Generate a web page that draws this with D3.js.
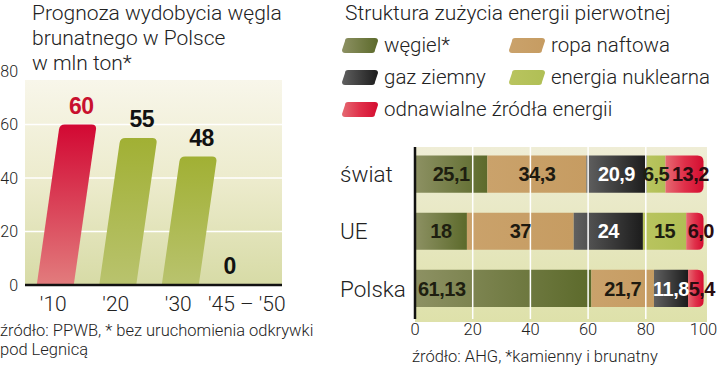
<!DOCTYPE html>
<html><head><meta charset="utf-8">
<script src="https://cdn.jsdelivr.net/npm/d3@7"></script>
<style>
html,body{margin:0;padding:0;background:#fff;}
svg{display:block;}
text{font-family:Roboto,"Liberation Sans",sans-serif;}
.lt{font-weight:300;fill:#222;}
.val{font-family:"Liberation Sans",Arial,sans-serif;font-weight:700;letter-spacing:-0.5px;}
</style></head>
<body>
<svg id="c" width="720" height="392"></svg>
<script>
// ---------- data ----------
const years = ["'10", "'20", "'30", "'45 – '50"];
const output = [60, 55, 48, 0];
const leftTicks = [0, 20, 40, 60, 80];

const regions = ["świat", "UE", "Polska"];
const seriesKeys = ["coal", "oil", "gas", "nuclear", "renew"];
const seriesNames = ["węgiel*", "ropa naftowa", "gaz ziemny", "energia nuklearna", "odnawialne źródła energii"];
const coal = [25.1, 18, 61.13];
const oil = [34.3, 37, 21.7];
const gas = [20.9, 24, 11.8];
const nuclear = [6.5, 15, 0];
const renew = [13.2, 6.0, 5.4];
const rightTicks = [0, 20, 40, 60, 80, 100];

// ---------- setup ----------
const svg = d3.select("#c");
const defs = svg.append("defs");
function lin(id, x2, y2, stops) {
  const g = defs.append("linearGradient").attr("id", id)
    .attr("x1", 0).attr("y1", 0).attr("x2", x2).attr("y2", y2);
  stops.forEach(([o, c]) => g.append("stop").attr("offset", o).attr("stop-color", c));
}
lin("bgL", 0, 1, [[0, "#f8f6ea"], [0.5, "#ecebcc"], [1, "#d7dba6"]]);
lin("bgR", 0, 1, [[0, "#efedd6"], [1, "#dee1aa"]]);
lin("barRed", 0, 1, [[0, "#d20833"], [1, "#e27c7d"]]);
lin("barGreen", 0, 1, [[0, "#a1b034"], [1, "#b9c36e"]]);
lin("g_coal", 1, 0, [[0, "#8d9163"], [1, "#5c6a2b"]]);
lin("g_oil", 1, 0, [[0, "#caa26b"], [1, "#c69c62"]]);
lin("g_gas", 1, 0, [[0, "#606060"], [1, "#1c1c1c"]]);
lin("g_nuclear", 1, 0, [[0, "#b9c45f"], [1, "#b0bf55"]]);
lin("g_renew", 1, 0, [[0, "#e56a72"], [0.5, "#e0304a"], [1, "#d40d30"]]);

// ---------- left chart ----------
const L = svg.append("g");
[["Prognoza wydobycia węgla", 20], ["brunatnego w Polsce", 45], ["w mln ton*", 70]]
  .forEach(([t, y]) => L.append("text").attr("class", "lt").attr("x", 32).attr("y", y)
    .attr("font-size", 21).text(t));

const yL = d3.scaleLinear().domain([0, 80]).range([285, 71]);
const xL = d3.scaleBand().domain(years).range([24, 274]).paddingInner(0.408).paddingOuter(0.204);

L.append("rect").attr("x", 25).attr("y", 80).attr("width", 257).attr("height", yL(0) - 80)
  .attr("fill", "url(#bgL)");
L.selectAll(".gl").data(leftTicks.filter(d => d > 0 && d < 80)).join("line")
  .attr("x1", 25).attr("x2", 282).attr("y1", d => yL(d)).attr("y2", d => yL(d))
  .attr("stroke", "#fff").attr("stroke-width", 1.5);
L.selectAll(".yt").data(leftTicks).join("text").attr("class", "lt")
  .attr("x", 18).attr("y", d => yL(d)).attr("dy", "0.36em").attr("text-anchor", "end")
  .attr("font-size", 16).attr("fill", "#444").text(d => d);

const skew = 0.143, rr = 5;
function slantPath(x0, w, yb, yt) {
  const h = yb - yt;
  if (h <= 0) return "";
  const s = skew * h;
  return `M${x0},${yb}L${x0 + s - skew * rr},${yt + rr}Q${x0 + s},${yt} ${x0 + s + rr},${yt}` +
    `L${x0 + s + w - rr},${yt}Q${x0 + s + w},${yt} ${x0 + s + w - skew * rr},${yt + rr}L${x0 + w},${yb}Z`;
}
L.selectAll(".bar").data(years).join("path")
  .attr("d", (d, i) => slantPath(xL(d), xL.bandwidth(), yL(0), yL(output[i])))
  .attr("fill", (d, i) => i === 0 ? "url(#barRed)" : "url(#barGreen)");
L.append("line").attr("x1", 25).attr("x2", 282).attr("y1", yL(0)).attr("y2", yL(0))
  .attr("stroke", "#111").attr("stroke-width", 2.5);

L.selectAll(".bv").data(years).join("text").attr("class", "val")
  .attr("x", (d, i) => xL(d) + xL.bandwidth() / 2 + skew * (yL(0) - yL(output[i])) + (output[i] > 0 ? 3 : -13))
  .attr("y", (d, i) => yL(output[i]) - 11)
  .attr("text-anchor", "middle").attr("font-size", 23)
  .attr("fill", (d, i) => i === 0 ? "#c8102e" : "#111").text((d, i) => output[i]);

L.selectAll(".xt").data(years).join("text").attr("class", "lt")
  .attr("x", (d, i) => xL(d) + xL.bandwidth() / 2 + (i === years.length - 1 ? 4 : -2)).attr("y", 311)
  .attr("text-anchor", "middle").attr("font-size", 21).text(d => d);

L.append("text").attr("class", "lt").attr("x", 0).attr("y", 336).attr("font-size", 16.5)
  .attr("fill", "#333").text("źródło: PPWB, * bez uruchomienia odkrywki");
L.append("text").attr("class", "lt").attr("x", 0).attr("y", 355).attr("font-size", 16.5)
  .attr("fill", "#333").text("pod Legnicą");

// ---------- right chart ----------
const R = svg.append("g");
R.append("text").attr("class", "lt").attr("x", 345).attr("y", 20).attr("font-size", 21)
  .text("Struktura zużycia energii pierwotnej");

// legend
const legPos = [[345, 38], [512, 38], [345, 70], [512, 70], [345, 102]];
function swatch(x, y) {
  const w = 30, h = 15, s = 3, r = 3;
  return `M${x + r},${y}L${x + w + s - r},${y}Q${x + w + s},${y} ${x + w + s},${y + r}` +
    `L${x + w},${y + h - r}Q${x + w},${y + h} ${x + w - r},${y + h}L${x - s + r},${y + h}` +
    `Q${x - s},${y + h} ${x - s},${y + h - r}L${x},${y + r}Q${x},${y} ${x + r},${y}Z`;
}
const leg = R.selectAll(".leg").data(seriesKeys).join("g");
leg.append("path").attr("d", (d, i) => swatch(legPos[i][0], legPos[i][1]))
  .attr("fill", d => `url(#g_${d})`);
leg.append("text").attr("class", "lt").attr("x", (d, i) => legPos[i][0] + 39)
  .attr("y", (d, i) => legPos[i][1] + 14).attr("font-size", 20.5).text((d, i) => seriesNames[i]);

const xR = d3.scaleLinear().domain([0, 100]).range([415, 703.5]);
const yR = d3.scaleBand().domain(regions).range([147, 315.5]).paddingInner(0.35).paddingOuter(0.149);

R.append("rect").attr("x", 415).attr("y", 147).attr("width", 292).attr("height", 175)
  .attr("fill", "url(#bgR)");

const series = { coal, oil, gas, nuclear, renew };
const rows = regions.map((r, i) => { const o = { region: r }; seriesKeys.forEach(k => o[k] = series[k][i]); return o; });
const stacked = d3.stack().keys(seriesKeys)(rows);

function segPath(x0, x1, y, h, roundRight) {
  if (!roundRight) return `M${x0},${y}H${x1}V${y + h}H${x0}Z`;
  const r = 6;
  return `M${x0},${y}H${x1 - r}Q${x1},${y} ${x1},${y + r}V${y + h - r}Q${x1},${y + h} ${x1 - r},${y + h}H${x0}Z`;
}
stacked.forEach(layer => {
  R.selectAll(".s_" + layer.key).data(layer).join("path")
    .attr("d", d => segPath(xR(d[0]), xR(d[1]), yR(d.data.region), yR.bandwidth(), layer.key === "renew"))
    .attr("fill", `url(#g_${layer.key})`);
});

// white gridlines over bars
R.selectAll(".rg").data(rightTicks.filter(d => d > 0 && d < 100)).join("line")
  .attr("x1", d => xR(d)).attr("x2", d => xR(d)).attr("y1", 147).attr("y2", 319)
  .attr("stroke", "#fff").attr("stroke-width", 1.5);
R.append("line").attr("x1", 415).attr("x2", 415).attr("y1", 147).attr("y2", 319)
  .attr("stroke", "#111").attr("stroke-width", 2.5);

// value labels
const fmt = (v, k) => (k === "renew" ? v.toFixed(1) : String(v)).replace(".", ",");
const txtCol = { coal: "#1e1e10", oil: "#1e1a10", gas: "#ffffff", nuclear: "#1e1e10", renew: "#2a0c10" };
stacked.forEach(layer => {
  R.selectAll(".t_" + layer.key).data(layer.filter(d => d[1] - d[0] > 0)).join("text")
    .attr("class", "val")
    .attr("x", d => {
      const a = xR(d[0]), b = xR(d[1]);
      if (b - a > 150) return a + 3;
      return (a + b) / 2 + (layer.key === "renew" ? 6 : 0);
    })
    .attr("text-anchor", d => (xR(d[1]) - xR(d[0]) > 150 ? "start" : "middle"))
    .attr("y", d => yR(d.data.region) + yR.bandwidth() / 2).attr("dy", "0.36em")
    .attr("font-size", 20).attr("fill", txtCol[layer.key])
    .text(d => fmt(series[layer.key][regions.indexOf(d.data.region)], layer.key));
});

// category labels
R.selectAll(".cat").data(regions).join("text").attr("class", "lt")
  .attr("x", 340).attr("y", d => yR(d) + yR.bandwidth() / 2).attr("dy", "0.36em")
  .attr("font-size", 22.5).text(d => d);

// axis tick labels
R.selectAll(".xt").data(rightTicks).join("text").attr("class", "lt")
  .attr("x", d => xR(d)).attr("y", 335).attr("text-anchor", "middle")
  .attr("font-size", 16.5).attr("fill", "#444").text(d => d);

R.append("text").attr("class", "lt").attr("x", 412).attr("y", 362).attr("font-size", 16.5)
  .attr("fill", "#333").text("źródło: AHG, *kamienny i brunatny");
</script>
</body></html>
